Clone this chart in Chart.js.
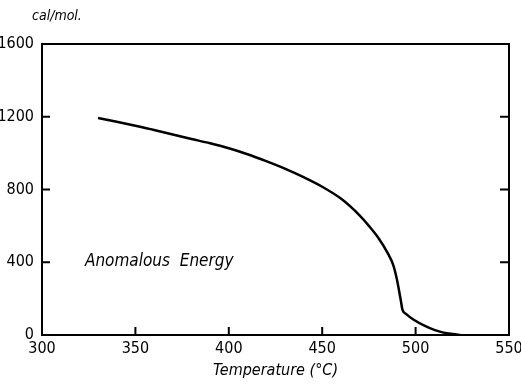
<!DOCTYPE html>
<html>
<head>
<meta charset="utf-8">
<script src="https://cdn.jsdelivr.net/npm/chart.js@4.4.1/dist/chart.umd.min.js"></script>
<style>
  html, body { margin: 0; padding: 0; background: #fff; }
  #wrap { width: 521px; height: 390px; position: relative; }
</style>
</head>
<body>
<div id="wrap"><canvas id="energyChart"></canvas></div>
<script>
// temperature (deg C) and anomalous energy (cal/mol)
const temps = [330, 340, 350, 360, 370, 380, 390, 400, 410, 420, 430, 440, 450, 460, 470, 475, 480, 485, 488, 490, 492, 493, 495, 499, 505, 510, 515, 520, 524];
const energy = [1193, 1172, 1150, 1127, 1102, 1078, 1054, 1027, 994, 956, 915, 868, 815, 750, 658, 600, 535, 452, 385, 305, 195, 138, 115, 84, 50, 28, 13, 5, 0];

const xTicks = [300, 350, 400, 450, 500, 550];
const yTicks = [0, 400, 800, 1200, 1600];

const font = '"Liberation Sans Narrow", "DejaVu Sans Condensed", sans-serif';

// frame + short inward ticks, like the hand drawn original
const framePlugin = {
    id: 'frame',
    afterDraw(chart) {
        const ctx = chart.ctx;
        const a = chart.chartArea;
        const xs = chart.scales.x, ys = chart.scales.y;
        ctx.save();
        ctx.strokeStyle = '#000';
        ctx.lineWidth = 2;
        ctx.strokeRect(a.left, a.top, a.right - a.left, a.bottom - a.top);
        ctx.beginPath();
        xTicks.slice(1, -1).forEach(v => {
            const px = xs.getPixelForValue(v);
            ctx.moveTo(px, a.bottom);
            ctx.lineTo(px, a.bottom - 8);
        });
        yTicks.slice(1, -1).forEach(v => {
            const py = ys.getPixelForValue(v);
            ctx.moveTo(a.left, py);
            ctx.lineTo(a.left + 8, py);
            ctx.moveTo(a.right, py);
            ctx.lineTo(a.right - 9, py);
        });
        ctx.stroke();

        // unit label above the y axis
        ctx.fillStyle = '#000';
        ctx.font = 'italic 14px ' + font;
        ctx.textAlign = 'left';
        ctx.textBaseline = 'alphabetic';
        ctx.fillText('cal/mol.', 32, 20);

        // curve label
        ctx.font = 'italic 17px ' + font;
        ctx.fillText('Anomalous  Energy', xs.getPixelForValue(323), ys.getPixelForValue(380));
        ctx.restore();
    }
};

new Chart(document.getElementById('energyChart'), {
    type: 'line',
    data: {
        labels: temps,
        datasets: [{
            label: 'Anomalous Energy',
            data: temps.map((t, i) => ({ x: t, y: energy[i] })),
            borderColor: '#000',
            borderWidth: 2.5,
            pointRadius: 0,
            fill: false,
            cubicInterpolationMode: 'monotone'
        }]
    },
    options: {
        responsive: true,
        maintainAspectRatio: false,
        animation: false,
        layout: { padding: { top: 44, right: 12, left: 0, bottom: 0 } },
        plugins: {
            legend: { display: false },
            tooltip: { enabled: false }
        },
        scales: {
            x: {
                type: 'linear',
                min: 300,
                max: 550,
                afterBuildTicks: s => { s.ticks = xTicks.map(v => ({ value: v })); },
                afterFit: s => { s.height = 55; s.paddingLeft = 0; s.paddingRight = 0; },
                grid: { display: false, drawTicks: false },
                border: { display: false },
                ticks: { color: '#000', padding: 4, font: { family: font, size: 16 }, callback: v => String(v) },
                title: {
                    display: true,
                    text: 'Temperature (°C)',
                    color: '#000',
                    padding: { top: 0, bottom: 10 },
                    font: { family: font, size: 16, style: 'italic' }
                }
            },
            y: {
                min: 0,
                max: 1600,
                afterBuildTicks: s => { s.ticks = yTicks.map(v => ({ value: v })); },
                afterFit: s => { s.width = 42; s.paddingTop = 0; s.paddingBottom = 0; },
                grid: { display: false, drawTicks: false },
                border: { display: false },
                ticks: { color: '#000', padding: 8, font: { family: font, size: 16 }, callback: v => String(v) }
            }
        }
    },
    plugins: [framePlugin]
});
</script>
</body>
</html>
